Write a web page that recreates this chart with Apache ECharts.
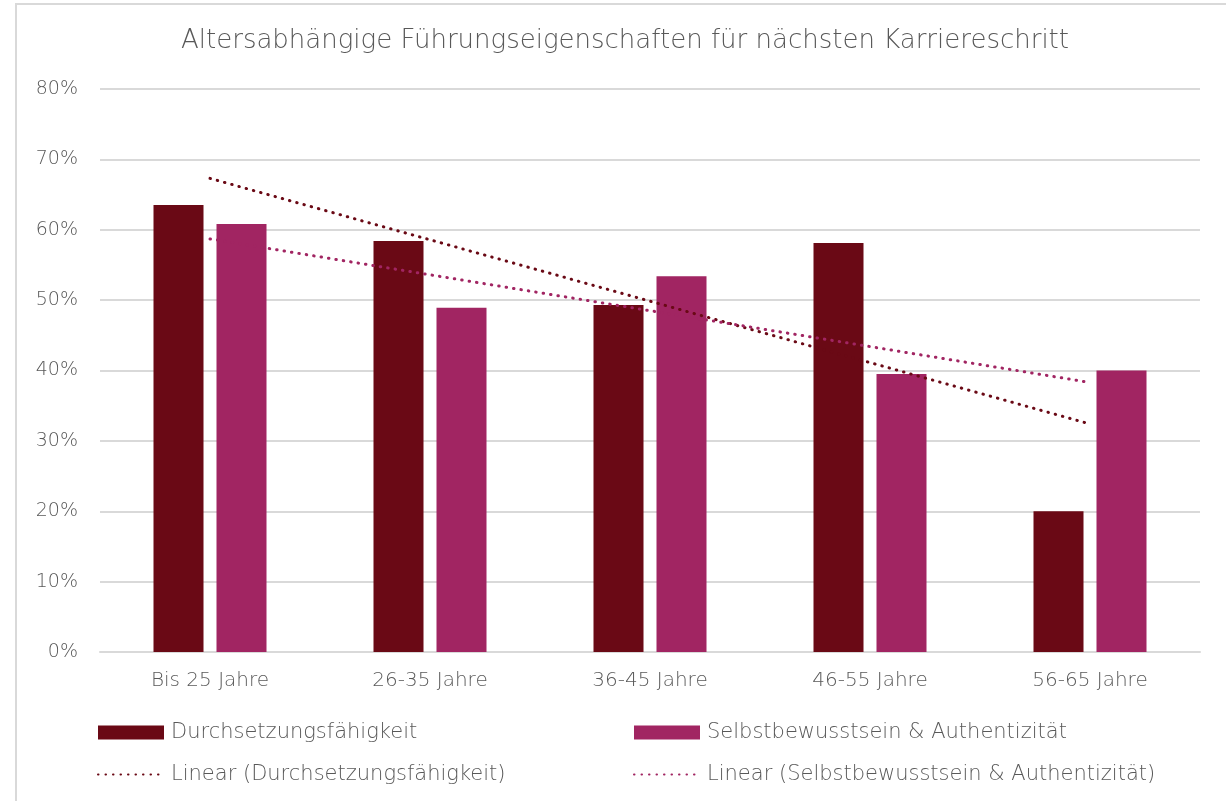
<!DOCTYPE html>
<html>
<head>
<meta charset="utf-8">
<script src="https://cdn.jsdelivr.net/npm/echarts@6/dist/echarts.min.js"></script>
<style>
  html, body { margin: 0; padding: 0; background: #fff; }
  #chart { width: 1226px; height: 801px; }
</style>
</head>
<body>
<div id="chart"></div>
<script>
var categories = ["Bis 25 Jahre", "26-35 Jahre", "36-45 Jahre", "46-55 Jahre", "56-65 Jahre"];
var durchsetzung = [63.5, 58.4, 49.3, 58.1, 20.0];
var selbstbewusst = [60.8, 48.9, 53.4, 39.5, 40.0];
// trend line end points (middle points left empty)
var trendDurchsetzung = [67.3, null, null, null, 32.4];
var trendSelbstbewusst = [58.7, null, null, null, 38.3];
var yTicks = [0, 10, 20, 30, 40, 50, 60, 70, 80];

var FONT = "'DejaVu Sans', sans-serif";
var GREY = "#595959";
var DARK = "#6a0915";
var PINK = "#a12562";

var chart = echarts.init(document.getElementById('chart'));

var barLegend = name => ({ name: name, icon: 'rect' });
var lineLegend = name => ({ name: name, itemStyle: { opacity: 0 } });

var option = {
    backgroundColor: '#fff',
    animation: false,
    textStyle: { fontFamily: FONT },
    title: {
        text: 'Altersabhängige Führungseigenschaften für nächsten Karriereschritt',
        left: 620,
        textAlign: 'center',
        top: 23,
        textStyle: { fontFamily: FONT, fontSize: 26, fontWeight: 300, color: GREY }
    },
    graphic: [{
        type: 'rect',
        shape: { x: 16, y: 4, width: 1300, height: 900 },
        style: { fill: 'none', stroke: '#d9d9d9', lineWidth: 2 },
        silent: true
    }],
    grid: { left: 100, right: 26, top: 89, bottom: 149 },
    legend: [{
        orient: 'vertical',
        left: 92,
        top: 717,
        itemWidth: 66,
        itemHeight: 14,
        itemGap: 21,
        data: [barLegend('Durchsetzungsfähigkeit'), lineLegend('Linear (Durchsetzungsfähigkeit)')],
        textStyle: { fontFamily: FONT, fontSize: 21, fontWeight: 300, color: GREY, padding: [0, 0, 0, 2] }
    }, {
        orient: 'vertical',
        left: 628,
        top: 717,
        itemWidth: 66,
        itemHeight: 14,
        itemGap: 21,
        data: [barLegend('Selbstbewusstsein & Authentizität'), lineLegend('Linear (Selbstbewusstsein & Authentizität)')],
        textStyle: { fontFamily: FONT, fontSize: 21, fontWeight: 300, color: GREY, padding: [0, 0, 0, 2] }
    }],
    xAxis: {
        type: 'category',
        data: categories,
        axisTick: { show: false },
        axisLine: { lineStyle: { color: '#d9d9d9', width: 2 } },
        axisLabel: { margin: 19, fontFamily: FONT, fontSize: 20, fontWeight: 300, color: GREY }
    },
    yAxis: {
        type: 'value',
        min: yTicks[0],
        max: yTicks[yTicks.length - 1],
        interval: 10,
        axisLine: { show: false },
        axisTick: { show: false },
        splitLine: { lineStyle: { color: '#d9d9d9', width: 2 } },
        axisLabel: {
            margin: 22,
            fontFamily: FONT, fontSize: 19, fontWeight: 300, color: GREY,
            formatter: v => v + '%'
        }
    },
    series: [{
        name: 'Durchsetzungsfähigkeit',
        type: 'bar',
        data: durchsetzung,
        barWidth: 50,
        barGap: '26%',
        itemStyle: { color: DARK }
    }, {
        name: 'Selbstbewusstsein & Authentizität',
        type: 'bar',
        data: selbstbewusst,
        barWidth: 50,
        itemStyle: { color: PINK }
    }, {
        name: 'Linear (Durchsetzungsfähigkeit)',
        type: 'line',
        data: trendDurchsetzung,
        connectNulls: true,
        symbol: 'none',
        z: 5,
        itemStyle: { color: DARK },
        lineStyle: { color: DARK, width: 3, type: [0.5, 7], cap: 'round' }
    }, {
        name: 'Linear (Selbstbewusstsein & Authentizität)',
        type: 'line',
        data: trendSelbstbewusst,
        connectNulls: true,
        symbol: 'none',
        z: 5,
        itemStyle: { color: PINK },
        lineStyle: { color: PINK, width: 3, type: [0.5, 7], cap: 'round' }
    }]
};

chart.setOption(option);
</script>
</body>
</html>
